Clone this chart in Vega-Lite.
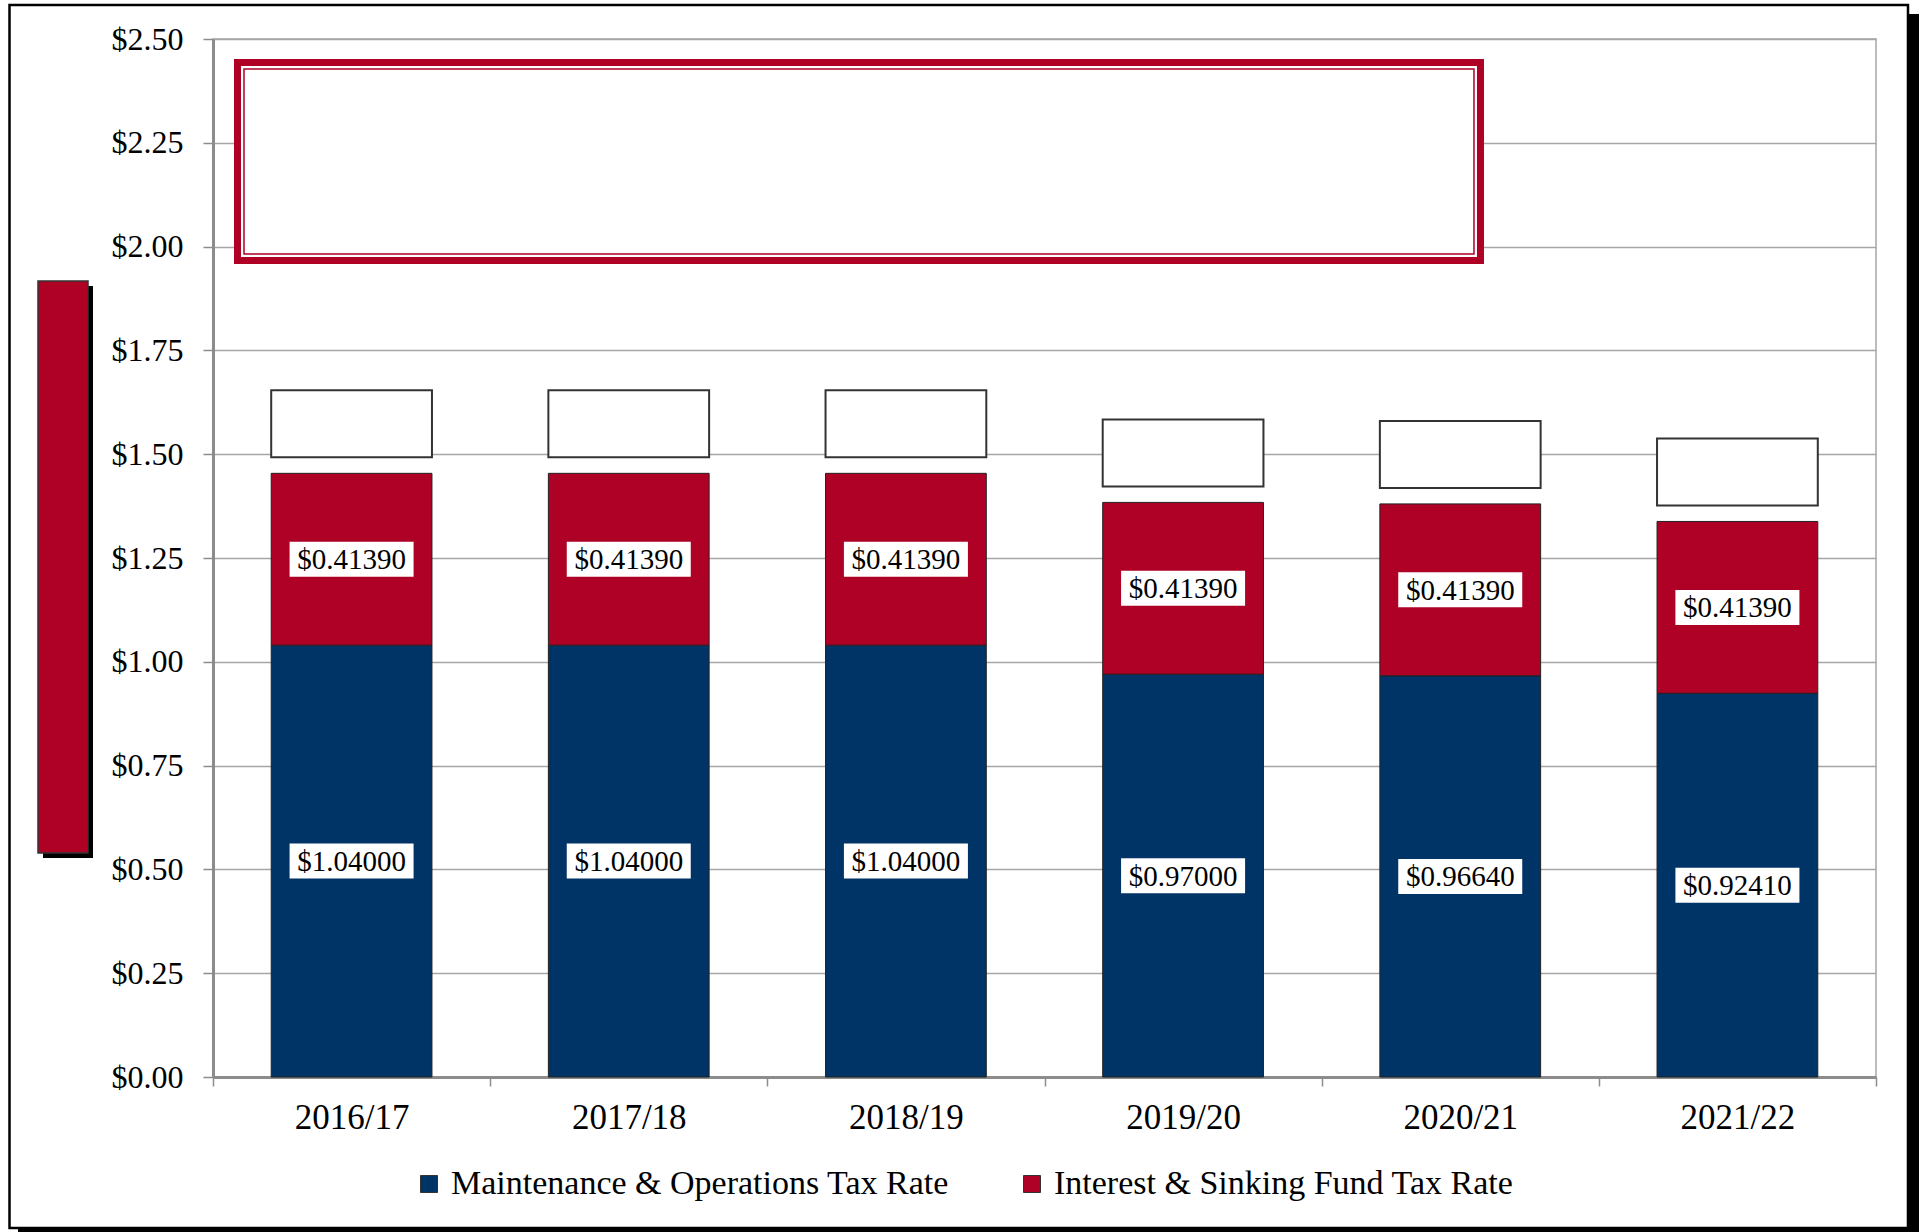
{
  "$schema": "https://vega.github.io/schema/vega-lite/v6.json",
  "width": 1663,
  "height": 1038,
  "autosize": "none",
  "padding": {"left": 213, "top": 39, "right": 43, "bottom": 155},
  "background": "white",
  "config": {
    "font": "Liberation Serif",
    "view": {"stroke": "#A6A6A6", "strokeWidth": 1.5},
    "axis": {"labelFont": "Liberation Serif", "labelColor": "black"}
  },
  "datasets": {
    "rates": [
      {"year": "2016/17", "series": "Maintenance & Operations Tax Rate", "rate": 1.04},
      {"year": "2016/17", "series": "Interest & Sinking Fund Tax Rate", "rate": 0.4139},
      {"year": "2017/18", "series": "Maintenance & Operations Tax Rate", "rate": 1.04},
      {"year": "2017/18", "series": "Interest & Sinking Fund Tax Rate", "rate": 0.4139},
      {"year": "2018/19", "series": "Maintenance & Operations Tax Rate", "rate": 1.04},
      {"year": "2018/19", "series": "Interest & Sinking Fund Tax Rate", "rate": 0.4139},
      {"year": "2019/20", "series": "Maintenance & Operations Tax Rate", "rate": 0.97},
      {"year": "2019/20", "series": "Interest & Sinking Fund Tax Rate", "rate": 0.4139},
      {"year": "2020/21", "series": "Maintenance & Operations Tax Rate", "rate": 0.9664},
      {"year": "2020/21", "series": "Interest & Sinking Fund Tax Rate", "rate": 0.4139},
      {"year": "2021/22", "series": "Maintenance & Operations Tax Rate", "rate": 0.9241},
      {"year": "2021/22", "series": "Interest & Sinking Fund Tax Rate", "rate": 0.4139}
    ]
  },
  "resolve": {"scale": {"x": "independent", "y": "independent"}},
  "layer": [
    {
      "data": {"values": [{}]},
      "layer": [
        {
          "mark": {"type": "rect", "filled": false, "stroke": "black", "strokeWidth": 2.5},
          "encoding": {
            "x": {"datum": -0.7342, "type": "quantitative", "scale": {"domain": [0, 6], "nice": false, "zero": false}, "axis": null},
            "x2": {"datum": 6.1154},
            "y": {"datum": 2.5819, "type": "quantitative", "scale": {"domain": [0, 2.5], "nice": false, "zero": false}, "axis": null},
            "y2": {"datum": -0.3637}
          }
        },
        {
          "mark": {"type": "rect", "color": "black"},
          "encoding": {
            "x": {"datum": 6.119, "type": "quantitative", "scale": {"domain": [0, 6], "nice": false, "zero": false}, "axis": null},
            "x2": {"datum": 6.1767},
            "y": {"datum": 2.5602, "type": "quantitative", "scale": {"domain": [0, 2.5], "nice": false, "zero": false}, "axis": null},
            "y2": {"datum": -0.3926}
          }
        },
        {
          "mark": {"type": "rect", "color": "black"},
          "encoding": {
            "x": {"datum": -0.7035, "type": "quantitative", "scale": {"domain": [0, 6], "nice": false, "zero": false}, "axis": null},
            "x2": {"datum": 6.1767},
            "y": {"datum": -0.3661, "type": "quantitative", "scale": {"domain": [0, 2.5], "nice": false, "zero": false}, "axis": null},
            "y2": {"datum": -0.3926}
          }
        },
        {
          "mark": {"type": "rect", "color": "black", "xOffset": 5, "x2Offset": 5, "yOffset": 5, "y2Offset": 5},
          "encoding": {
            "x": {"datum": -0.6314, "type": "quantitative", "scale": {"domain": [0, 6], "nice": false, "zero": false}, "axis": null},
            "x2": {"datum": -0.451},
            "y": {"datum": 1.9171, "type": "quantitative", "scale": {"domain": [0, 2.5], "nice": false, "zero": false}, "axis": null},
            "y2": {"datum": 0.5395}
          }
        },
        {
          "mark": {"type": "rect", "fill": "#AF0026", "stroke": "#333333", "strokeWidth": 1.5},
          "encoding": {
            "x": {"datum": -0.6314, "type": "quantitative", "scale": {"domain": [0, 6], "nice": false, "zero": false}, "axis": null},
            "x2": {"datum": -0.451},
            "y": {"datum": 1.9171, "type": "quantitative", "scale": {"domain": [0, 2.5], "nice": false, "zero": false}, "axis": null},
            "y2": {"datum": 0.5395}
          }
        },
        {
          "mark": {"type": "rect", "fill": "white", "stroke": "#AF0026", "strokeWidth": 7},
          "encoding": {
            "x": {"datum": 0.0884, "type": "quantitative", "scale": {"domain": [0, 6], "nice": false, "zero": false}, "axis": null},
            "x2": {"datum": 4.573},
            "y": {"datum": 2.4434, "type": "quantitative", "scale": {"domain": [0, 2.5], "nice": false, "zero": false}, "axis": null},
            "y2": {"datum": 1.9665}
          }
        },
        {
          "mark": {"type": "rect", "filled": false, "stroke": "#AF0026", "strokeWidth": 1.5, "xOffset": 6.5, "x2Offset": -6.5, "yOffset": 6.5, "y2Offset": -6.5},
          "encoding": {
            "x": {"datum": 0.0884, "type": "quantitative", "scale": {"domain": [0, 6], "nice": false, "zero": false}, "axis": null},
            "x2": {"datum": 4.573},
            "y": {"datum": 2.4434, "type": "quantitative", "scale": {"domain": [0, 2.5], "nice": false, "zero": false}, "axis": null},
            "y2": {"datum": 1.9665}
          }
        }
      ]
    },
    {
      "data": {"name": "rates"},
      "layer": [
        {
          "mark": {"type": "bar", "width": {"band": 0.58}, "stroke": "#222222", "strokeWidth": 1},
          "encoding": {
            "x": {
              "field": "year", "type": "nominal",
              "scale": {"paddingInner": 0, "paddingOuter": 0},
              "axis": {
                "title": null, "labelAngle": 0, "labelFontSize": 35, "labelPadding": 14,
                "tickBand": "extent", "tickSize": 9, "tickColor": "#8C8C8C", "tickWidth": 1.5,
                "domainColor": "#8C8C8C", "domainWidth": 3, "grid": false
              }
            },
            "y": {
              "field": "rate", "type": "quantitative", "stack": "zero",
              "scale": {"domain": [0, 2.5], "nice": false},
              "axis": {
                "title": null, "orient": "left", "values": [0, 0.25, 0.5, 0.75, 1, 1.25, 1.5, 1.75, 2, 2.25, 2.5],
                "format": "$.2f", "labelFontSize": 32, "labelPadding": 20,
                "tickSize": 10, "tickColor": "#8C8C8C", "tickWidth": 1.5,
                "domainColor": "#8C8C8C", "domainWidth": 3,
                "grid": true, "gridColor": "#A6A6A6", "gridWidth": 1.5
              }
            },
            "color": {
              "field": "series", "type": "nominal",
              "scale": {
                "domain": ["Maintenance & Operations Tax Rate", "Interest & Sinking Fund Tax Rate"],
                "range": ["#003366", "#AF0026"]
              },
              "legend": {
                "orient": "none", "legendX": 199, "legendY": 1128, "direction": "horizontal", "columns": 2,
                "title": null, "labelFontSize": 34, "labelFont": "Liberation Serif", "labelColor": "black", "labelLimit": 1000,
                "symbolType": "square", "symbolSize": 289, "symbolStrokeColor": "#333333", "symbolStrokeWidth": 1,
                "columnPadding": 66, "labelOffset": 5
              }
            },
            "order": {"field": "series", "sort": "descending"}
          }
        },
        {
          "transform": [
            {"aggregate": [{"op": "sum", "field": "rate", "as": "total"}], "groupby": ["year"]}
          ],
          "mark": {"type": "bar", "width": {"band": 0.58}, "fill": "white", "stroke": "#333333", "strokeWidth": 2, "yOffset": -83, "y2Offset": -16},
          "encoding": {
            "x": {"field": "year", "type": "nominal", "scale": {"paddingInner": 0, "paddingOuter": 0}},
            "y": {"field": "total", "type": "quantitative", "scale": {"domain": [0, 2.5], "nice": false}},
            "y2": {"field": "total"}
          }
        },
        {
          "transform": [
            {"stack": "rate", "groupby": ["year"], "sort": [{"field": "series", "order": "descending"}], "as": ["y0", "y1"]},
            {"fold": ["y0", "y1"], "as": ["edge", "pos"]},
            {"aggregate": [{"op": "mean", "field": "pos", "as": "mid"}, {"op": "max", "field": "rate", "as": "rate"}], "groupby": ["year", "series"]}
          ],
          "layer": [
            {
              "mark": {"type": "bar", "width": 124, "fill": "white", "yOffset": -17.5, "y2Offset": 17.5},
              "encoding": {
                "x": {"field": "year", "type": "nominal", "scale": {"paddingInner": 0, "paddingOuter": 0}},
                "y": {"field": "mid", "type": "quantitative", "scale": {"domain": [0, 2.5], "nice": false}},
                "y2": {"field": "mid"}
              }
            },
            {
              "mark": {"type": "text", "font": "Liberation Serif", "fontSize": 29, "color": "black", "baseline": "middle", "align": "center", "dy": 1},
              "encoding": {
                "x": {"field": "year", "type": "nominal", "scale": {"paddingInner": 0, "paddingOuter": 0}},
                "y": {"field": "mid", "type": "quantitative", "scale": {"domain": [0, 2.5], "nice": false}},
                "text": {"field": "rate", "type": "quantitative", "format": "$.5f"}
              }
            }
          ]
        }
      ]
    }
  ]
}
